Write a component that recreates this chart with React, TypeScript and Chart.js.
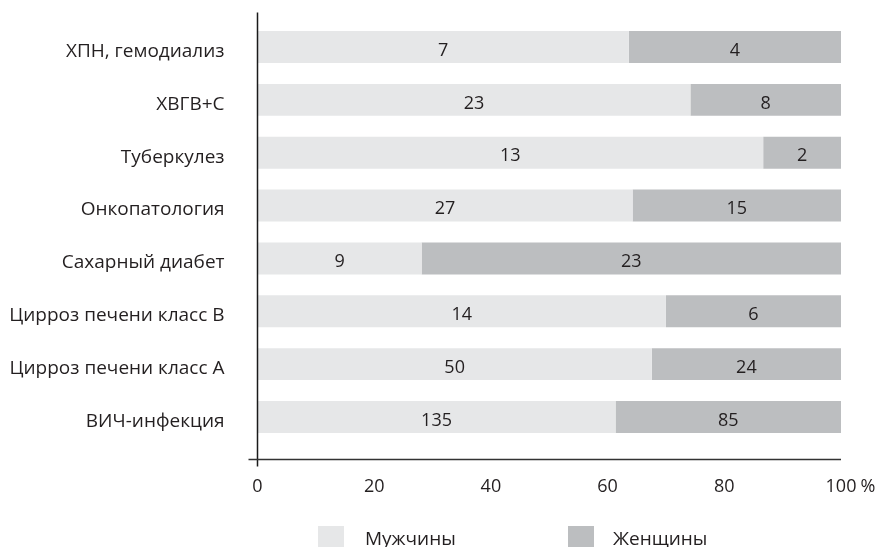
import React, { useEffect, useRef } from "react";
import { Chart, registerables } from "chart.js";
Chart.register(...registerables);

const categories = [
  "ХПН, гемодиализ",
  "ХВГВ+С",
  "Туберкулез",
  "Онкопатология",
  "Сахарный диабет",
  "Цирроз печени класс В",
  "Цирроз печени класс А",
  "ВИЧ-инфекция",
];
const menCounts = [7, 23, 13, 27, 9, 14, 50, 135];
const womenCounts = [4, 8, 2, 15, 23, 6, 24, 85];
const seriesNames = ["Мужчины", "Женщины"];
const xTickValues = [0, 20, 40, 60, 80, 100];
const unitLabel = "%";

const FONT = "'Open Sans', 'Noto Sans', sans-serif";
const NUM_SIZE = 18;
const LABEL_SIZE = 19;
const TEXT = "#231f20";
const MEN_COLOR = "#e6e7e8";
const WOMEN_COLOR = "#bcbec0";

const countsBySeries = [menCounts, womenCounts];

export default function App() {
  const ref = useRef<HTMLCanvasElement | null>(null);
  useEffect(() => {
    if (!ref.current) return;
    const totals = menCounts.map((m, i) => m + womenCounts[i]);
    const pct = (arr: number[]) => arr.map((v, i) => (v / totals[i]) * 100);

    const overlay = {
      id: "overlay",
      afterDraw(chart: any) {
        const ctx = chart.ctx;
        const ca = chart.chartArea;
        ctx.save();
        ctx.font = `${NUM_SIZE}px ${FONT}`;
        ctx.fillStyle = TEXT;
        ctx.textAlign = "center";
        ctx.textBaseline = "middle";
        chart.data.datasets.forEach((ds: any, di: number) => {
          const meta = chart.getDatasetMeta(di);
          meta.data.forEach((el: any, i: number) => {
            const p = el.getProps(["x", "y", "base"], true);
            const cx = (p.x + p.base) / 2;
            ctx.fillText(String(countsBySeries[di][i]), cx, p.y + 3.5);
          });
        });
        ctx.lineWidth = 1.5;
        ctx.strokeStyle = "#1a1a1a";
        ctx.beginPath();
        ctx.moveTo(ca.left, ca.top - 8);
        ctx.lineTo(ca.left, ca.bottom + 23);
        ctx.stroke();
        ctx.strokeStyle = "#333333";
        ctx.beginPath();
        ctx.moveTo(ca.left - 9, ca.bottom + 16);
        ctx.lineTo(ca.right, ca.bottom + 16);
        ctx.stroke();
        ctx.textAlign = "center";
        ctx.fillText(unitLabel, 868, 487);
        ctx.font = `${LABEL_SIZE}px ${FONT}`;
        const boxX = [318, 568];
        const textX = [365, 613];
        chart.data.datasets.forEach((ds: any, di: number) => {
          ctx.fillStyle = ds.backgroundColor;
          ctx.fillRect(boxX[di], 526, 26, 21);
          ctx.fillStyle = TEXT;
          ctx.textAlign = "left";
          ctx.fillText(ds.label, textX[di], 539.5);
        });
        ctx.restore();
      },
    };

    const chart = new Chart(ref.current, {
      type: "bar",
      data: {
        labels: categories,
        datasets: [
          { label: seriesNames[0], data: pct(menCounts), backgroundColor: MEN_COLOR },
          { label: seriesNames[1], data: pct(womenCounts), backgroundColor: WOMEN_COLOR },
        ],
      },
      options: {
        indexAxis: "y",
        animation: false,
        responsive: false,
        maintainAspectRatio: false,
        layout: { padding: { top: 20.6, right: 40, left: 0, bottom: 0 } },
        datasets: { bar: { categoryPercentage: 1, barPercentage: 0.605 } },
        plugins: { legend: { display: false }, tooltip: { enabled: false } },
        scales: {
          x: {
            stacked: true,
            min: 0,
            max: 100,
            afterFit: (s: any) => {
              s.height = 103.6;
              s.paddingLeft = 0; s.paddingRight = 0; s.paddingTop = 0; s.paddingBottom = 0;
            },
            afterBuildTicks: (s: any) => { s.ticks = xTickValues.map((v) => ({ value: v })); },
            grid: { display: false, drawTicks: false },
            border: { display: false },
            ticks: { padding: 33, color: TEXT, font: { family: FONT, size: NUM_SIZE }, maxRotation: 0 },
          },
          y: {
            stacked: true,
            afterFit: (s: any) => {
              s.width = 257.5;
              s.paddingLeft = 0; s.paddingRight = 0; s.paddingTop = 0; s.paddingBottom = 0;
            },
            grid: { display: false, drawTicks: false },
            border: { display: false },
            ticks: { padding: 33, labelOffset: 4.5, color: TEXT, font: { family: FONT, size: LABEL_SIZE } },
          },
        },
      },
      plugins: [overlay],
    });
    return () => chart.destroy();
  }, []);
  return (
    <div style={{ position: "fixed", left: 0, top: 0, width: 881, height: 547, background: "#fff" }}>
      <canvas ref={ref} width={881} height={547} style={{ display: "block" }} />
    </div>
  );
}
